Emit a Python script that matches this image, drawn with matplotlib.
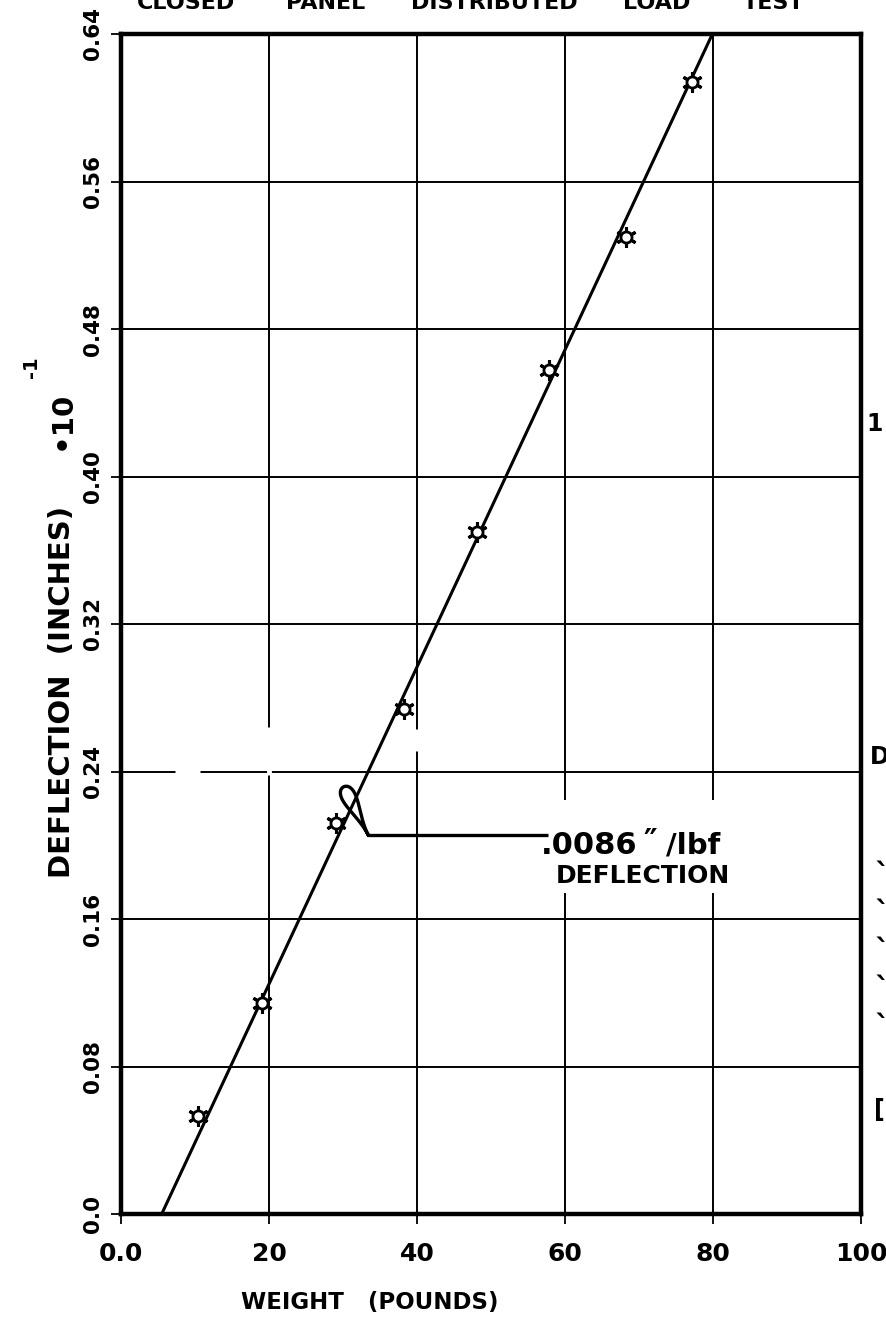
import numpy as np
import matplotlib
matplotlib.use("Agg")
import matplotlib.pyplot as plt
import matplotlib.transforms as mtransforms
from matplotlib.patches import Rectangle

# Measured load / deflection pairs
weight_lb = [10.4, 19.1, 29.1, 38.3, 48.1, 57.8, 68.2, 77.1]
deflection = [0.053, 0.1145, 0.212, 0.274, 0.370, 0.4575, 0.530, 0.614]

# Straight-line fit: slope per pound and zero-deflection weight
fit_slope = 0.0086
fit_x0 = 5.5

x_ticks = [0, 20, 40, 60, 80, 100]
x_tick_labels = ["0.0", "20", "40", "60", "80", "100"]
y_ticks = [0.0, 0.08, 0.16, 0.24, 0.32, 0.40, 0.48, 0.56, 0.64]
y_tick_labels = ["0.0", "0.08", "0.16", "0.24", "0.32", "0.40", "0.48", "0.56", "0.64"]
title_words = ["CLOSED", "PANEL", "DISTRIBUTED", "LOAD", "TEST"]

W, H = 887, 1321
plt.rcParams["font.family"] = ["DejaVu Sans"]
fig = plt.figure(figsize=(W / 100, H / 100), dpi=100)
ax = fig.add_axes([121 / W, 1 - 1214 / H, (861 - 121) / W, (1214 - 34) / H])


def fx(px):
    return px / W


def fy(py):
    return 1 - py / H


ax.set_xlim(0, 100)
ax.set_ylim(0, 0.64)
ax.set_xticks(x_ticks)
ax.set_xticklabels(x_tick_labels, fontsize=18)
ax.set_yticks(y_ticks)
ax.set_yticklabels(y_tick_labels, rotation=90, va="center", fontsize=15.5)
ax.tick_params(direction="out", length=7, width=1.3, color="black")
ax.tick_params(axis="x", pad=13)
ax.tick_params(axis="y", pad=6)
for lab in ax.get_xticklabels() + ax.get_yticklabels():
    lab.set_fontweight("bold")
for s in ax.spines.values():
    s.set_linewidth(3.2)
    s.set_color("black")
ax.grid(True, color="black", linewidth=1.4)
ax.set_axisbelow(True)

# Scanner dropouts in a few grid lines
gap_kw = dict(color="white", linewidth=3.5, zorder=1.5, solid_capstyle="butt")
ax.plot([7.3, 10.7], [0.24, 0.24], **gap_kw)
ax.plot([20, 20], [0.238, 0.264], **gap_kw)
ax.plot([40, 40], [0.251, 0.263], **gap_kw)

# Fitted line
fx_line = np.array([fit_x0, fit_x0 + 0.64 / fit_slope])
ax.plot(fx_line, fit_slope * (fx_line - fit_x0), color="black", linewidth=2.2,
        zorder=3, clip_on=False)

# Data points: spiked sun markers
ax.plot(weight_lb, deflection, linestyle="none", marker=(6, 2, 0),
        markersize=15, markeredgewidth=2.2, color="black", zorder=4)
ax.plot(weight_lb, deflection, linestyle="none", marker="o",
        markersize=8, markerfacecolor="white", markeredgecolor="black",
        markeredgewidth=2.0, zorder=5)

# Leader from the fitted line to the slope note
corner_x, corner_y = 33.4, 0.2056
ax.plot([corner_x, 57.7], [corner_y, corner_y], color="black", linewidth=2.4,
        zorder=3, solid_capstyle="butt")

# Teardrop loop around the line, pointed end at the leader corner
t = np.linspace(0, 2 * np.pi, 400)
L, half_w = 54.0, 12.2
u = L * (1 - np.cos(t)) / 2
v = half_w * np.sin(t) * np.sin(t / 2) ** 3
d = np.array([-24.0, 47.0])
d /= np.linalg.norm(d)
n = np.array([-d[1], d[0]])
px_pts = np.outer(u, d) + np.outer(v, n)
loop_tr = fig.dpi_scale_trans + mtransforms.ScaledTranslation(corner_x, corner_y, ax.transData)
ax.plot(px_pts[:, 0] / 100, px_pts[:, 1] / 100, color="black", linewidth=2.4,
        transform=loop_tr, zorder=3, clip_on=False)

# Clear the grid behind the slope note
ax.add_patch(Rectangle((fx(549), fy(893)), fx(742) - fx(549), fy(800) - fy(893),
                       transform=fig.transFigure, facecolor="white",
                       edgecolor="none", zorder=2))
fig.text(fx(541), fy(845), ".0086", fontsize=22, fontweight="bold",
         ha="left", va="center")
fig.text(fx(643), fy(842), "\u2033", fontsize=22, fontweight="bold",
         ha="left", va="center")
fig.text(fx(666), fy(845), "/lbf", fontsize=21, fontweight="bold",
         ha="left", va="center")
fig.text(fx(643), fy(876), "DEFLECTION", fontsize=18, fontweight="bold",
         ha="center", va="center")

# Axis titles
fig.text(fx(370), fy(1302), "WEIGHT   (POUNDS)", fontsize=16.5, fontweight="bold",
         ha="center", va="center")
fig.text(fx(62), fy(692), "DEFLECTION  (INCHES)", fontsize=21, fontweight="bold",
         ha="center", va="center", rotation=90)
fig.text(fx(62), fy(420), "\u202210", fontsize=21, fontweight="bold",
         ha="center", va="center", rotation=90)
fig.text(fx(31), fy(367), "-1", fontsize=14, fontweight="bold",
         ha="center", va="center", rotation=90)

# Title running off the top edge
for word, left in zip(title_words, [137, 286, 411, 623, 743]):
    fig.text(fx(left), fy(9), word, fontsize=16, fontweight="bold",
             ha="left", va="baseline")

# Edge of the neighbouring figure
edge_kw = dict(fontsize=17, fontweight="bold", ha="left", va="center")
fig.text(fx(866), fy(424), "1", **edge_kw)
fig.text(fx(870), fy(757), "D", **edge_kw)
for py in [852, 890, 928, 965, 1003]:
    fig.text(fx(875), fy(py), "\u02ce", fontsize=22, fontweight="bold",
             ha="left", va="center")
fig.text(fx(874), fy(1110), "[", fontsize=17, fontweight="bold", ha="left", va="center")

fig.savefig("out.png", dpi=100)
